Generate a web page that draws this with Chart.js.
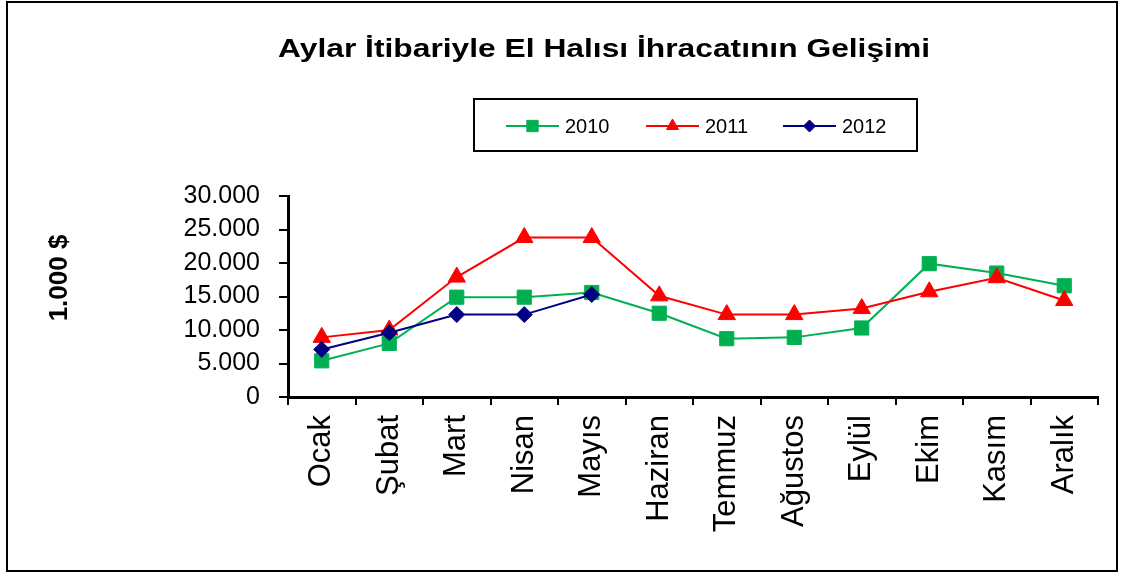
<!DOCTYPE html>
<html>
<head>
<meta charset="utf-8">
<script src="https://cdn.jsdelivr.net/npm/chart.js@4/dist/chart.umd.min.js"></script>
<style>
  html, body { margin: 0; padding: 0; background: #fff; }
  #wrap { width: 1123px; height: 574px; position: relative; }
</style>
</head>
<body>
<div id="wrap"><canvas id="c" width="1123" height="574"></canvas></div>
<script>
const titleText = 'Aylar İtibariyle El Halısı İhracatının Gelişimi';
const yAxisTitle = '1.000 $';
const months = ['Ocak', 'Şubat', 'Mart', 'Nisan', 'Mayıs', 'Haziran', 'Temmuz', 'Ağustos', 'Eylül', 'Ekim', 'Kasım', 'Aralık'];
const seriesNames = ['2010', '2011', '2012'];
const v2010 = [5400, 8000, 14900, 14900, 15600, 12500, 8700, 8900, 10300, 19900, 18500, 16600];
const v2011 = [8900, 10000, 17900, 23800, 23800, 15100, 12300, 12300, 13200, 15700, 17800, 14400];
const v2012 = [7100, 9600, 12300, 12300, 15300, null, null, null, null, null, null, null];
const yTicks = [0, 5000, 10000, 15000, 20000, 25000, 30000];

const FONT = '"Liberation Sans", Arial, sans-serif';
const colors = ['#00B050', '#FF0000', '#000080'];
const styles = ['rect', 'triangle', 'rectRot'];
const radii = [10, 10, 8];
const legendRadii = [8, 7, 6];

function fmt(v) {
  return String(v).replace(/\B(?=(\d{3})+(?!\d))/g, '.');
}

const decor = {
  id: 'decor',
  afterDraw(chart) {
    const ctx = chart.ctx;
    ctx.save();
    // outer frame
    ctx.strokeStyle = '#000';
    ctx.lineWidth = 2;
    ctx.strokeRect(7, 2, 1110, 569);

    // title (horizontally stretched like the reference)
    ctx.font = 'bold 25px ' + FONT;
    ctx.fillStyle = '#000';
    ctx.textBaseline = 'alphabetic';
    ctx.textAlign = 'center';
    const tw = ctx.measureText(titleText).width;
    const sx = 652 / tw;
    ctx.save();
    ctx.translate(604, 57);
    ctx.scale(sx, 1);
    ctx.fillText(titleText, 0, 0);
    ctx.restore();

    // y axis title
    ctx.save();
    ctx.translate(60, 278);
    ctx.rotate(-Math.PI / 2);
    ctx.font = 'bold 26px ' + FONT;
    ctx.textAlign = 'center';
    ctx.textBaseline = 'middle';
    ctx.fillText(yAxisTitle, 0, 0);
    ctx.restore();

    // legend box
    ctx.lineWidth = 2;
    ctx.strokeStyle = '#000';
    ctx.strokeRect(474, 99, 443, 52);
    const ly = 126;
    const lineStarts = [506, 646, 783];
    chart.data.datasets.forEach((ds, i) => {
      const x0 = lineStarts[i];
      const x1 = x0 + 53;
      ctx.strokeStyle = ds.borderColor;
      ctx.lineWidth = 2;
      ctx.beginPath();
      ctx.moveTo(x0, ly);
      ctx.lineTo(x1, ly);
      ctx.stroke();
      ctx.fillStyle = ds.backgroundColor;
      ctx.strokeStyle = ds.borderColor;
      ctx.lineWidth = 1;
      Chart.helpers.drawPoint(ctx, { pointStyle: ds.pointStyle, radius: legendRadii[i], rotation: 0, borderWidth: 1 }, (x0 + x1) / 2, ly);
      ctx.fillStyle = '#000';
      ctx.font = '20px ' + FONT;
      ctx.textAlign = 'left';
      ctx.textBaseline = 'middle';
      ctx.fillText(ds.label, x1 + 6, ly + 1);
    });
    ctx.restore();
  }
};

const datasets = [v2010, v2011, v2012].map((arr, i) => ({
  label: seriesNames[i],
  data: arr,
  borderColor: colors[i],
  backgroundColor: colors[i],
  pointBackgroundColor: colors[i],
  pointBorderColor: colors[i],
  pointStyle: styles[i],
  pointRadius: radii[i],
  pointHoverRadius: radii[i],
  pointBorderWidth: 1,
  borderWidth: 2,
  tension: 0,
  spanGaps: false,
  order: 3 - i
}));

new Chart(document.getElementById('c'), {
  type: 'line',
  data: { labels: months, datasets: datasets },
  plugins: [decor],
  options: {
    responsive: false,
    animation: false,
    events: [],
    layout: { padding: { left: 0, top: 196, right: 25, bottom: 7 } },
    plugins: {
      legend: { display: false },
      title: { display: false },
      tooltip: { enabled: false }
    },
    scales: {
      x: {
        type: 'category',
        offset: true,
        afterFit(scale) { scale.height = 170; },
        grid: {
          offset: true,
          drawOnChartArea: false,
          drawTicks: true,
          tickLength: 8,
          color: '#000',
          lineWidth: 2
        },
        border: { display: true, color: '#000', width: 3 },
        ticks: {
          autoSkip: false,
          minRotation: 90,
          maxRotation: 90,
          padding: 10,
          color: '#000',
          font: { family: FONT, size: 31 }
        }
      },
      y: {
        min: 0,
        max: 30000,
        afterFit(scale) { scale.width = 288; },
        afterBuildTicks(scale) { scale.ticks = yTicks.map(v => ({ value: v })); },
        grid: {
          drawOnChartArea: false,
          drawTicks: true,
          tickLength: 9,
          color: '#000',
          lineWidth: 2
        },
        border: { display: true, color: '#000', width: 3 },
        ticks: {
          padding: 19,
          color: '#000',
          font: { family: FONT, size: 25 },
          callback: (v) => fmt(v)
        }
      }
    }
  }
});
</script>
</body>
</html>
